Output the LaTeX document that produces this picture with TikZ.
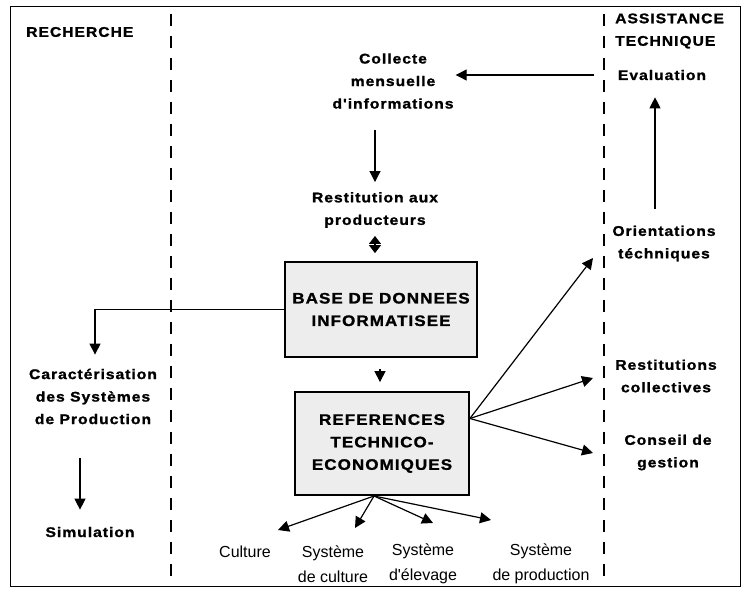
\documentclass[tikz,border=0pt]{standalone}
\usepackage{fontspec}
\usetikzlibrary{arrows.meta}
\newfontfamily\bfam{Liberation Sans}[FakeStretch=1.12,LetterSpace=7,FakeBold=1.3]
\newfontfamily\rfam{Liberation Sans}
\begin{document}
\begin{tikzpicture}[x=1pt,y=-1pt,
  lbl/.style={font=\bfam\bfseries\fontsize{14}{22.5}\selectfont, align=center, inner sep=0pt},
  boxlbl/.style={font=\bfam\bfseries\fontsize{15.2}{22.5}\selectfont, align=center, inner sep=0pt},
  sm/.style={font=\rfam\fontsize{16}{25}\selectfont, align=center, inner sep=0pt},
  arr/.style={line width=1.2pt, -{Triangle[length=11pt,width=11pt]}},
  dbl/.style={line width=1.2pt, {Triangle[length=8pt,width=12pt]}-{Triangle[length=8pt,width=12pt]}},
  boxst/.style={draw, line width=1.8pt, fill=black!7},
  sep/.style={line width=1.4pt, dash pattern=on 12pt off 10pt}]
\useasboundingbox (0,0) rectangle (742,593);
\draw[line width=0.9pt] (10,6) rectangle (740,586);
\draw[sep] (171,14) -- (171,586);
\draw[sep] (604,14) -- (604,586);

% texts
\node[lbl, anchor=west] (rech) at (26,32) {RECHERCHE};
\node[lbl, anchor=west, align=left] (assist) at (615,31) {ASSISTANCE\\TECHNIQUE};
\node[lbl] (eval) at (662,75) {Evaluation};
\node[lbl] (coll) at (393,81) {Collecte\\mensuelle\\d'informations};
\node[lbl] (rest) at (375,210) {Restitution aux\\producteurs};
\node[boxst, boxlbl, minimum width=192pt, minimum height=95pt] (base) at (381,309.5) {BASE DE DONNEES\\INFORMATISEE};
\node[boxst, boxlbl, minimum width=174pt, minimum height=103pt] (ref) at (382,443.5) {REFERENCES\\TECHNICO-\\ECONOMIQUES};
\node[lbl] (caract) at (93,396.5) {Caractérisation\\des Systèmes\\de Production};
\node[lbl] (simul) at (90,532) {Simulation};
\node[lbl] (orient) at (664,243.5) {Orientations\\téchniques};
\node[lbl] (restit) at (666,376) {Restitutions\\collectives};
\node[lbl] (conseil) at (668,452.5) {Conseil de\\gestion};
\node[sm] (cult) at (245,552) {Culture};
\node[sm] (scult) at (333,564) {Système\\de culture};
\node[sm] (selev) at (423,564) {Système\\d'élevage};
\node[sm] (sprod) at (541,564) {Système\\de production};

% free ends
\coordinate (tOr) at (593,258);
\coordinate (tRe) at (593,378);
\coordinate (tCo) at (593,453);
\coordinate (src) at (374,496);
\coordinate (tCu) at (278,530);
\coordinate (tSc) at (355,528);
\coordinate (tSe) at (433,523);
\coordinate (tSp) at (491,520);

% connectors
\draw[arr, shorten <=24pt, shorten >=2pt] (eval.west) -- (coll.east |- eval.west);
\draw[arr, shorten <=21pt, shorten >=10pt] (coll.south -| rest.north) -- (rest.north);
\draw[dbl, shorten <=8pt, shorten >=8pt] (rest.south) -- (rest.south |- base.north);
\draw[arr, shorten >=14pt] (base.west) -| ([xshift=2pt]caract.north);
\draw[arr, shorten <=34pt, shorten >=17pt] ([xshift=-13pt]caract.south) -- ([xshift=-13pt]caract.south |- simul.north);
\draw[arr, shorten <=11pt, shorten >=9pt] ([xshift=-1pt]base.south) -- ([xshift=-1pt]base.south |- ref.north);
\draw[arr, shorten <=17pt, shorten >=17pt] ([xshift=-9pt]orient.north) -- ([xshift=-9pt]orient.north |- eval.south);
\draw[arr] ([yshift=25pt]ref.east) -- (tOr);
\draw[arr] ([yshift=25pt]ref.east) -- (tRe);
\draw[arr] ([yshift=25pt]ref.east) -- (tCo);
\draw[arr] (src) -- (tCu);
\draw[arr] (src) -- (tSc);
\draw[arr] (src) -- (tSe);
\draw[arr] (src) -- (tSp);
\end{tikzpicture}
\end{document}
